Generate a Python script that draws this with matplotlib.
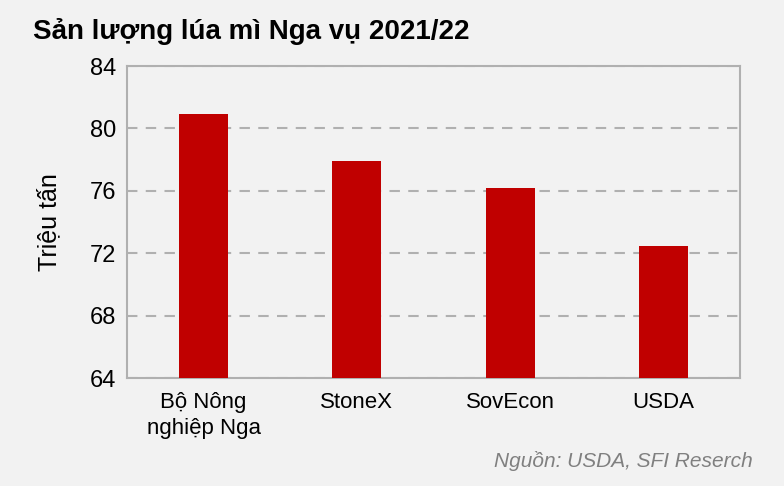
import matplotlib
matplotlib.use("Agg")
import matplotlib.pyplot as plt

categories = ["Bộ Nông\nnghiệp Nga", "StoneX", "SovEcon", "USDA"]
values = [80.9, 77.9, 76.2, 72.5]
yticks = [64, 68, 72, 76, 80, 84]

plt.rcParams['font.family'] = ['Liberation Sans', 'DejaVu Sans']
fig = plt.figure(figsize=(7.84, 4.86), dpi=100, facecolor='#f2f2f2')
ax = fig.add_axes([0.162, 0.222, 0.782, 0.642], facecolor='#f2f2f2')
ax.bar(range(len(values)), values, width=0.32, color='#c00000', zorder=3)
ax.set_ylim(64, 84)
ax.set_xlim(-0.5, 3.5)
ax.set_yticks(yticks)
ax.tick_params(axis='y', labelsize=17, length=0, pad=8)
ax.tick_params(axis='x', labelsize=16, length=0, pad=10)
ax.set_xticks(range(len(values)))
ax.set_xticklabels(categories, linespacing=1.3)
ax.yaxis.grid(True, linestyle=(0, (5, 4)), color='#b0b0b0', linewidth=1.5, zorder=0)
for s in ax.spines.values():
    s.set_color('#b0b0b0'); s.set_linewidth(1.5)
ax.set_ylabel("Triệu tấn", fontsize=18, labelpad=20)
fig.text(0.042, 0.92, "Sản lượng lúa mì Nga vụ 2021/22", fontsize=20, fontweight='bold')
fig.text(0.96, 0.04, "Nguồn: USDA, SFI Reserch", fontsize=15, style='italic', color='#808080', ha='right')
fig.savefig("out.png", dpi=100, facecolor=fig.get_facecolor())
